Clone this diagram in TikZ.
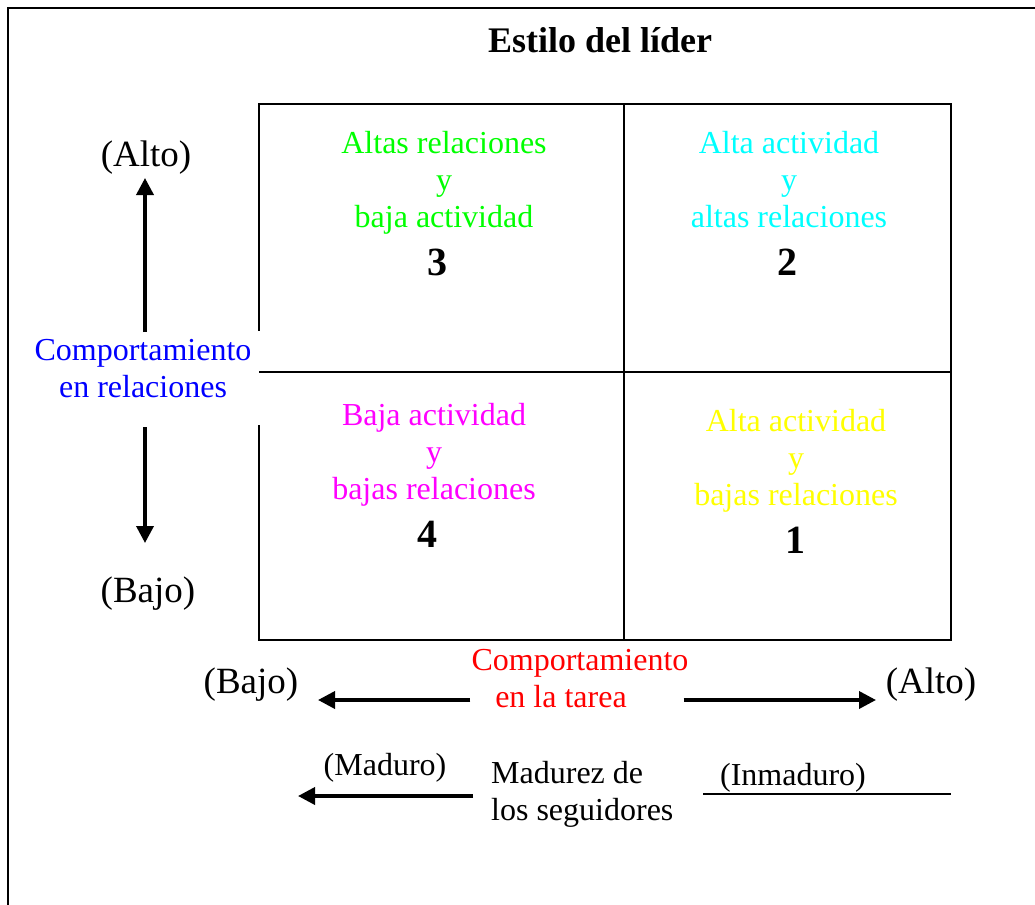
\documentclass[tikz,border=0pt]{standalone}
\usepackage{fontspec}
\setmainfont{Liberation Serif}
\usetikzlibrary{arrows.meta}
\definecolor{pgreen}{RGB}{0,255,0}
\definecolor{pcyan}{RGB}{0,255,255}
\definecolor{pmag}{RGB}{255,0,255}
\definecolor{pyellow}{RGB}{255,255,0}
\definecolor{pblue}{RGB}{0,0,255}
\definecolor{pred}{RGB}{255,0,0}
\begin{document}
\begin{tikzpicture}[x=1pt,y=-1pt,
  lbl/.style={inner sep=0pt, anchor=base, align=center, font=\fontsize{32}{37}\selectfont},
  parlbl/.style={inner sep=0pt, anchor=base, font=\fontsize{37}{42}\selectfont},
  num/.style={inner sep=0pt, anchor=base, font=\fontsize{40}{44}\selectfont\bfseries},
  arr/.style={line width=3.6pt, -{Triangle[length=17pt,width=17pt]}},
  gridline/.style={line width=1.8pt}]
\useasboundingbox (0,0) rectangle (1035,904);
% outer frame (cut by the page on right and bottom)
\draw[gridline] (8,910) -- (8,8) -- (1040,8);
% title
\node[inner sep=0pt, anchor=base, font=\fontsize{36}{40}\selectfont\bfseries] (title) at (600,53) {Estilo del líder};
% grid
\draw[gridline] (259,104) rectangle (951,640);
\fill[white] (30,331) rectangle (260.5,425);
\draw[gridline] (624,104) -- (624,640);
\draw[gridline] (259,372) -- (951,372);
% cells (anchor base = baseline of the last line)
\node[lbl, text=pgreen] (c3) at (444,227) {Altas relaciones\\y\\baja actividad};
\node[num] (n3) at (437,275) {3};
\node[lbl, text=pcyan] (c2) at (789,227) {Alta actividad\\y\\altas relaciones};
\node[num] (n2) at (787,275) {2};
\node[lbl, text=pmag] (c4) at (434,499) {Baja actividad\\y\\bajas relaciones};
\node[num] (n4) at (427,547) {4};
\node[lbl, text=pyellow] (c1) at (796,505) {Alta actividad\\y\\bajas relaciones};
\node[num] (n1) at (795,553) {1};
% left axis
\node[parlbl] (altoL) at (146,167) {(Alto)};
\node[lbl, text=pblue] (rel) at (143,397) {Comportamiento\\en relaciones};
\node[parlbl] (bajoL) at (148,602) {(Bajo)};
\coordinate (upBase) at (145,332);
\coordinate (upTip) at (145,178);
\coordinate (dnBase) at (145,427);
\coordinate (dnTip) at (145,543);
\draw[arr] (upBase) -- (upTip);
\draw[arr] (dnBase) -- (dnTip);
% bottom axis
\node[lbl, text=pred] (tarea) at (580,707) {Comportamiento\\en la tarea\hspace*{38pt}};
\node[parlbl] (bajoB) at (251,693) {(Bajo)};
\node[parlbl] (altoB) at (931,693) {(Alto)};
\coordinate (tL) at (318,700);
\coordinate (tR) at (876,700);
\draw[arr, shorten <=1pt] (tarea.west |- tL) -- (tL);
\draw[arr, shorten <=-5pt] (tarea.east |- tR) -- (tR);
% maturity
\node[lbl] (mad) at (385,775) {(Maduro)};
\node[lbl, align=left, anchor=base west] (madur) at (491,820) {Madurez de\\los seguidores};
\node[lbl] (inm) at (793,785) {(Inmaduro)};
\coordinate (mL) at (298,796);
\draw[arr, shorten <=18pt] (madur.west |- mL) -- (mL);
\coordinate (iA) at (703,794);
\coordinate (iB) at (951,794);
\draw[gridline] (iA) -- (iB);
\end{tikzpicture}
\end{document}
